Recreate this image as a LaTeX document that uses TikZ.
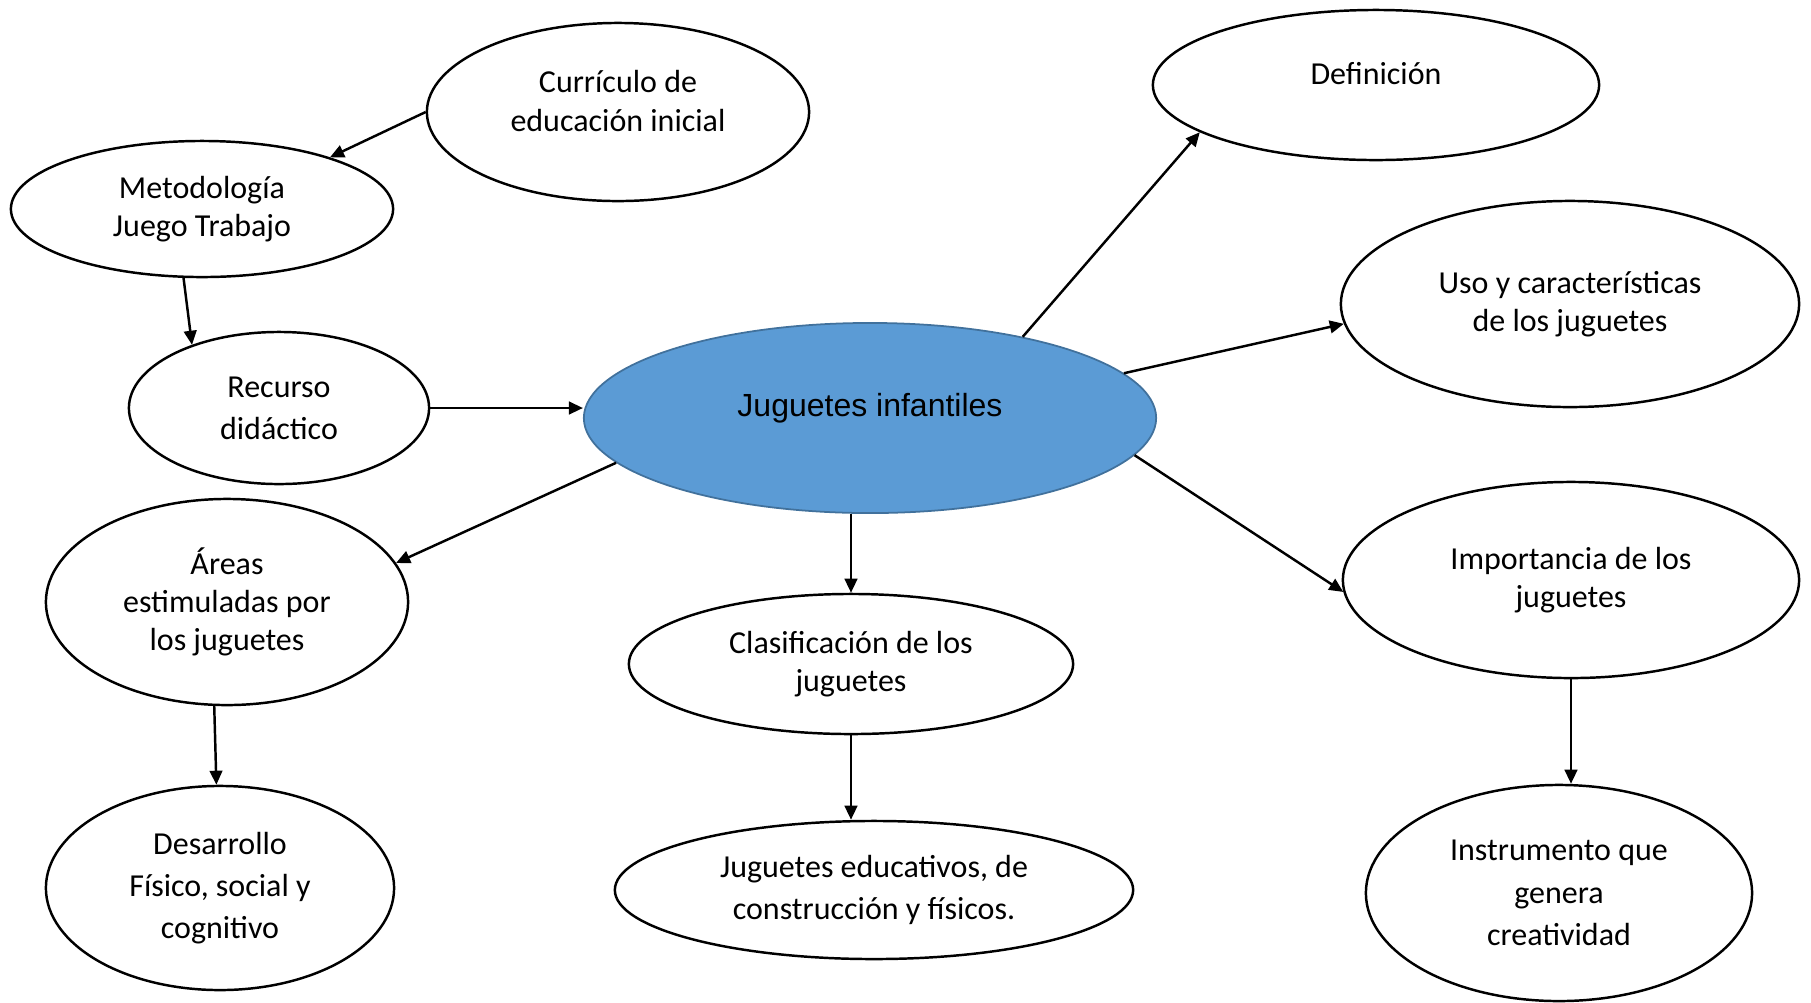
\documentclass[tikz,border=0pt]{standalone}
\usepackage{fontspec}
\setmainfont{Carlito}
\newfontfamily\arialfont{Liberation Sans}
\usetikzlibrary{positioning,arrows.meta,shapes.geometric}

\begin{document}
\begin{tikzpicture}[
  x=0.01cm, y=-0.01cm,
  oval/.style={draw, ellipse, line width=0.7pt, inner sep=0pt, align=center,
    font=\fontsize{9.1}{10.9}\selectfont},
  loose/.style={font=\fontsize{9.1}{12}\selectfont},
  txt/.style={align=center, font=\fontsize{9.1}{10.9}\selectfont},
  arr/.style={-{Triangle[length=4pt,width=3.6pt]}, line width=0.7pt}
]
\useasboundingbox (0,0) rectangle (1811,1002);

\node[oval, minimum width=5.72cm, minimum height=1.90cm,
  fill={rgb,255:red,91;green,155;blue,213}, draw={rgb,255:red,65;green,113;blue,156},
  line width=0.5pt,
  label={[font=\arialfont\fontsize{9.1}{11}\selectfont, yshift=0.10cm]center:Juguetes infantiles}]
  (cen) at (870,418) {};

\node[oval, minimum width=3.82cm, minimum height=1.78cm,
  label={[txt, yshift=0.11cm]center:Currículo de\\educación inicial}] (cur) at (618,112) {};
\node[oval, minimum width=3.82cm, minimum height=1.36cm] (met) at (202,209) {Metodología\\Juego Trabajo};
\node[oval, loose, minimum width=3.00cm, minimum height=1.52cm] (rec) at (279,408) {Recurso\\didáctico};
\node[oval, minimum width=3.62cm, minimum height=2.06cm] (are) at (227,602) {Áreas\\estimuladas por\\los juguetes};
\node[oval, loose, minimum width=3.48cm, minimum height=2.04cm] (des) at (220,888) {Desarrollo\\Físico, social y\\cognitivo};

\node[oval, minimum width=4.44cm, minimum height=1.40cm] (cla) at (851,664) {Clasificación de los\\juguetes};
\node[oval, loose, minimum width=5.18cm, minimum height=1.38cm] (edu) at (874,890) {Juguetes educativos, de\\construcción y físicos.};

\node[oval, minimum width=4.46cm, minimum height=1.50cm,
  label={[txt, yshift=0.11cm]center:Definición}] (def) at (1376,85) {};
\node[oval, minimum width=4.58cm, minimum height=2.06cm] (uso) at (1570,304) {Uso y características\\de los juguetes};
\node[oval, minimum width=4.56cm, minimum height=1.96cm] (imp) at (1571,580) {Importancia de los\\juguetes};
\node[oval, loose, minimum width=3.86cm, minimum height=2.16cm] (ins) at (1559,893) {Instrumento que\\genera\\creatividad};

\draw[arr] (cur.west) -- (met.22);
\draw[arr] (met.-105) -- (rec.144);
\draw[arr] (rec.east) -- (rec.east -| cen.west);
\draw[arr] (cen.28) -- (def.195);
\draw[arr] (cen.10) -- (uso.185);
\draw[arr] (cen.-8) -- (imp.183);
\draw[arr] (cla.north |- cen.south) -- (cla.north);
\draw[arr] (cen.190) -- (are.13);
\draw[arr] (cla.south) -- (cla.south |- edu.north);
\draw[arr] (are.-97) -- (des.92);
\draw[arr] (imp.south) -- (imp.south |- ins.north);
\end{tikzpicture}
\end{document}
